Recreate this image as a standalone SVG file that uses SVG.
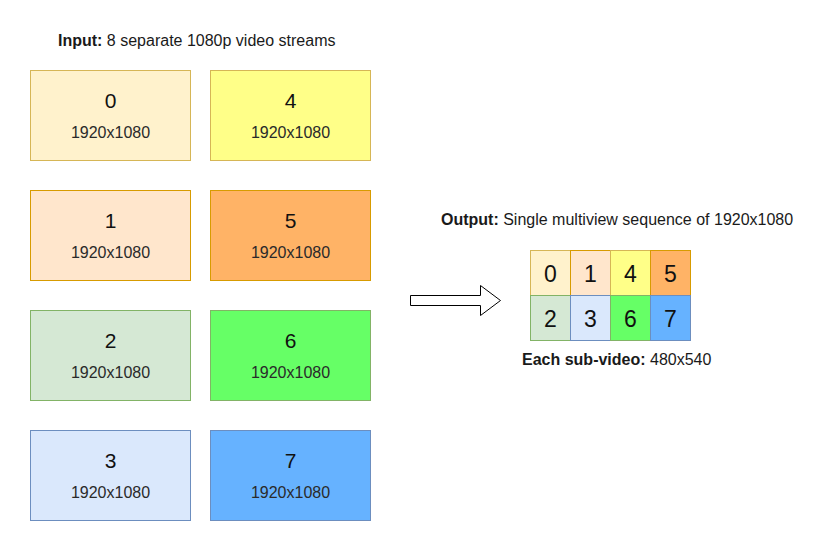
<svg xmlns="http://www.w3.org/2000/svg" width="831" height="551" viewBox="0 0 831 551">
<style>
text{font-family:"Liberation Sans",Arial,sans-serif;fill:#1a1a1a}
.num{font-size:21px;text-anchor:middle;fill:#111}
.res{font-size:16px;text-anchor:middle;fill:#2a2a2a}
.cell{font-size:23px;text-anchor:middle;fill:#111}
.hdr{font-size:16px}
.b{font-weight:bold}
rect{stroke-width:1}
.c0{fill:#fff2cc;stroke:#d6b656}
.c4{fill:#ffff88;stroke:#d6b656}
.c1{fill:#ffe6cc;stroke:#d79b00}
.c5{fill:#ffb366;stroke:#d79b00}
.c2{fill:#d5e8d4;stroke:#82b366}
.c6{fill:#66ff66;stroke:#82b366}
.c3{fill:#dae8fc;stroke:#6c8ebf}
.c7{fill:#66b2ff;stroke:#6c8ebf}
</style>
<rect width="831" height="551" fill="#ffffff"/>
<text id="input-label" class="hdr" x="58" y="46"><tspan class="b">Input:</tspan> 8 separate 1080p video streams</text>
<g id="node-0"><rect class="c0" x="30.5" y="70.5" width="160" height="90"/><text class="num" x="110.5" y="108">0</text><text class="res" x="110.5" y="138">1920x1080</text></g>
<g id="node-4"><rect class="c4" x="210.5" y="70.5" width="160" height="90"/><text class="num" x="290.5" y="108">4</text><text class="res" x="290.5" y="138">1920x1080</text></g>
<g id="node-1"><rect class="c1" x="30.5" y="190.5" width="160" height="90"/><text class="num" x="110.5" y="228">1</text><text class="res" x="110.5" y="258">1920x1080</text></g>
<g id="node-5"><rect class="c5" x="210.5" y="190.5" width="160" height="90"/><text class="num" x="290.5" y="228">5</text><text class="res" x="290.5" y="258">1920x1080</text></g>
<g id="node-2"><rect class="c2" x="30.5" y="310.5" width="160" height="90"/><text class="num" x="110.5" y="348">2</text><text class="res" x="110.5" y="378">1920x1080</text></g>
<g id="node-6"><rect class="c6" x="210.5" y="310.5" width="160" height="90"/><text class="num" x="290.5" y="348">6</text><text class="res" x="290.5" y="378">1920x1080</text></g>
<g id="node-3"><rect class="c3" x="30.5" y="430.5" width="160" height="90"/><text class="num" x="110.5" y="468">3</text><text class="res" x="110.5" y="498">1920x1080</text></g>
<g id="node-7"><rect class="c7" x="210.5" y="430.5" width="160" height="90"/><text class="num" x="290.5" y="468">7</text><text class="res" x="290.5" y="498">1920x1080</text></g>
<g id="connectors">
<path d="M410.5,295.5 L480.5,295.5 L480.5,285.5 L500.5,300.5 L480.5,315.5 L480.5,305.5 L410.5,305.5 Z" fill="#ffffff" stroke="#000000" stroke-width="1"/>
</g>
<text id="output-label" class="hdr" x="441" y="225"><tspan class="b">Output:</tspan> Single multiview sequence of 1920x1080</text>
<g id="multiview">
<g id="mv-0"><rect class="c0" x="530.5" y="250.5" width="40" height="45"/><text class="cell" x="550.5" y="281.5">0</text></g>
<g id="mv-1"><rect class="c1" x="570.5" y="250.5" width="40" height="45"/><text class="cell" x="590.5" y="281.5">1</text></g>
<g id="mv-4"><rect class="c4" x="610.5" y="250.5" width="40" height="45"/><text class="cell" x="630.5" y="281.5">4</text></g>
<g id="mv-5"><rect class="c5" x="650.5" y="250.5" width="40" height="45"/><text class="cell" x="670.5" y="281.5">5</text></g>
<g id="mv-2"><rect class="c2" x="530.5" y="295.5" width="40" height="45"/><text class="cell" x="550.5" y="326.5">2</text></g>
<g id="mv-3"><rect class="c3" x="570.5" y="295.5" width="40" height="45"/><text class="cell" x="590.5" y="326.5">3</text></g>
<g id="mv-6"><rect class="c6" x="610.5" y="295.5" width="40" height="45"/><text class="cell" x="630.5" y="326.5">6</text></g>
<g id="mv-7"><rect class="c7" x="650.5" y="295.5" width="40" height="45"/><text class="cell" x="670.5" y="326.5">7</text></g>
</g>
<text id="sub-label" class="hdr" x="522" y="365"><tspan class="b">Each sub-video:</tspan> 480x540</text>
</svg>
